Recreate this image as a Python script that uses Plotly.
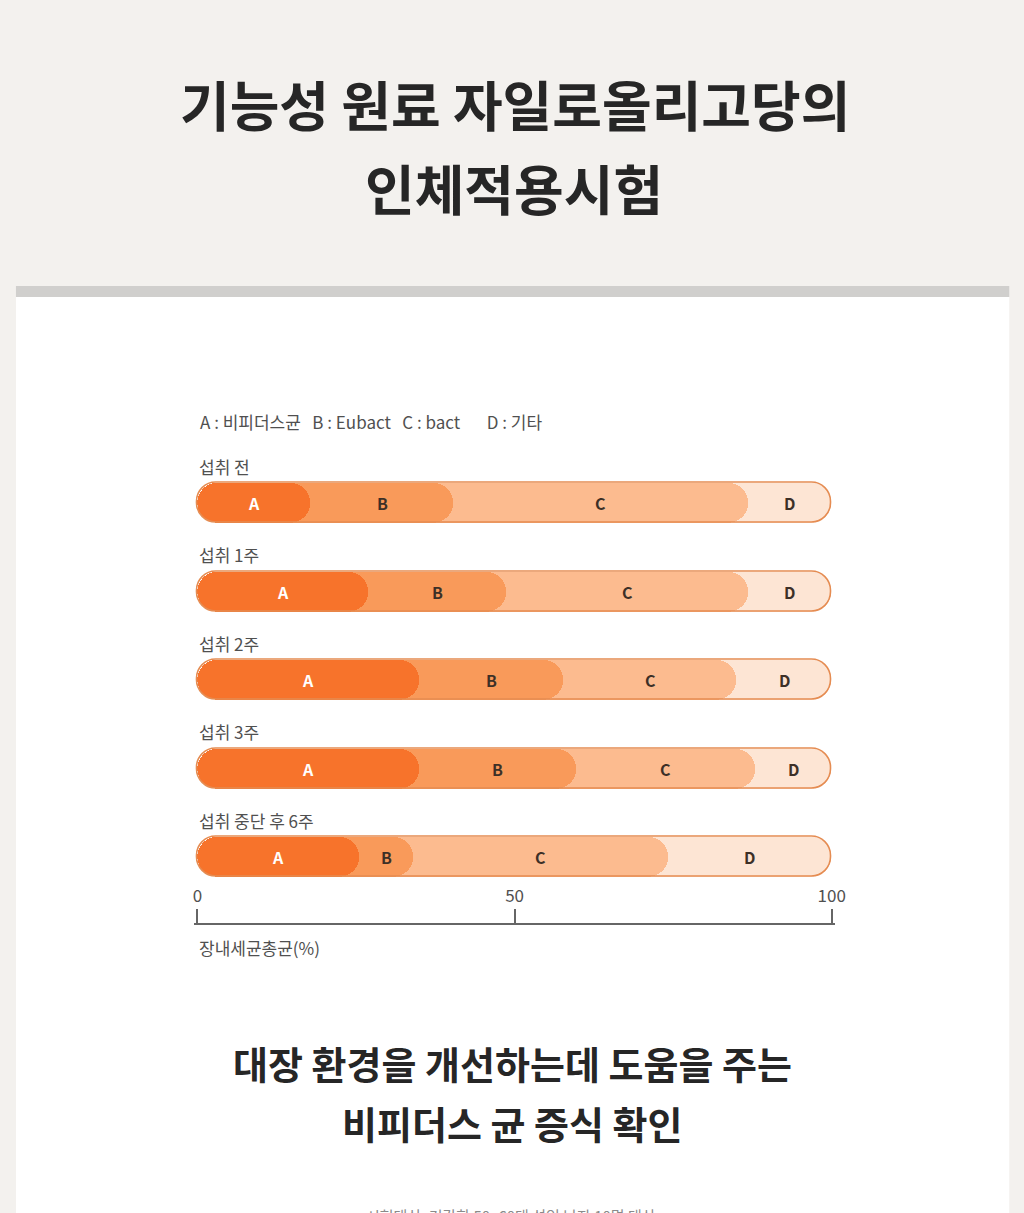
import plotly.graph_objects as go

# ---- data ----
stages = ["섭취 전", "섭취 1주", "섭취 2주", "섭취 3주", "섭취 중단 후 6주"]
seg_names = ["A", "B", "C", "D"]
A_vals = [17.8, 27.0, 34.9, 35.0, 25.5]
B_vals = [22.6, 21.7, 22.8, 24.7, 8.6]
C_vals = [46.4, 38.1, 27.3, 28.3, 40.1]
D_vals = [13.2, 13.2, 15.0, 12.0, 25.8]
tick_vals = [0, 50, 100]
tick_text = ["0", "50", "100"]
legend_text = "A : 비피더스균   B : Eubact   C : bact       D : 기타"
axis_title = "장내세균총균(%)"
title_lines = ["기능성 원료 자일로올리고당의", "인체적용시험"]
headline_lines = ["대장 환경을 개선하는데 도움을 주는", "비피더스 균 증식 확인"]
footnote = "시험대상: 건강한 50~60대 성인 남자 10명 대상"

# ---- styling ----
W, H = 1024, 1213
XS = 1 / 0.99          # horizontal compensation for the renderer's slight squeeze
FONT = "Noto Sans CJK KR"
colors = {"A": "#f7732b", "B": "#f99a5a", "C": "#fcbb8f", "D": "#fde5d4"}
label_colors = {"A": "#ffffff", "B": "#3d3027", "C": "#3d3027", "D": "#3d3027"}
border = "#e58c52"
txt_gray = "#505050"

def py(px):
    return 1 - px / H

def px_(x):
    return x * XS / W

series = {"A": A_vals, "B": B_vals, "C": C_vals, "D": D_vals}
cum_end = {}
cum_start = {}
running = [0.0] * len(stages)
for s in seg_names:
    cum_start[s] = list(running)
    running = [r + v for r, v in zip(running, series[s])]
    cum_end[s] = list(running)

fig = go.Figure()
for s in reversed(seg_names):
    fig.add_trace(go.Bar(
        y=stages, x=cum_end[s], base=0, orientation="h",
        marker=dict(color=colors[s], cornerradius=20, line=dict(width=0)),
        width=0.45, name=s, hoverinfo="skip", showlegend=False,
    ))
fig.add_trace(go.Bar(
    y=stages, x=cum_end["D"], base=0, orientation="h",
    marker=dict(color="rgba(0,0,0,0)", cornerradius=20, line=dict(width=1.6, color=border)),
    width=0.45, hoverinfo="skip", showlegend=False,
))

annotations = []
for s in seg_names:
    for i, st in enumerate(stages):
        annotations.append(dict(
            x=cum_start[s][i] + series[s][i] / 2, y=st, xref="x", yref="y",
            text=f"<b>{s}</b>", showarrow=False,
            font=dict(family=FONT, size=16, color=label_colors[s]),
        ))
for st in stages:
    annotations.append(dict(
        x=0, y=st, xref="x", yref="y", xanchor="left", yshift=37,
        text=st, showarrow=False, font=dict(family=FONT, size=17, color=txt_gray),
    ))

annotations += [
    dict(x=px_(197), y=py(421), xref="paper", yref="paper", xanchor="left", yanchor="middle",
         text=legend_text, showarrow=False, font=dict(family=FONT, size=17, color=txt_gray)),
    dict(x=px_(196), y=py(947), xref="paper", yref="paper", xanchor="left", yanchor="middle",
         text=axis_title, showarrow=False, font=dict(family=FONT, size=17, color=txt_gray)),
    dict(x=px_(514), y=py(103), xref="paper", yref="paper", yanchor="middle",
         text=f"<b>{title_lines[0]}</b>", showarrow=False,
         font=dict(family=FONT, size=54, color="#262626")),
    dict(x=px_(513), y=py(188), xref="paper", yref="paper", yanchor="middle",
         text=f"<b>{title_lines[1]}</b>", showarrow=False,
         font=dict(family=FONT, size=54, color="#262626")),
    dict(x=px_(512), y=py(1062), xref="paper", yref="paper", yanchor="middle",
         text=f"<b>{headline_lines[0]}</b>", showarrow=False,
         font=dict(family=FONT, size=38, color="#262626")),
    dict(x=px_(512), y=py(1122), xref="paper", yref="paper", yanchor="middle",
         text=f"<b>{headline_lines[1]}</b>", showarrow=False,
         font=dict(family=FONT, size=38, color="#262626")),
    dict(x=px_(510), y=py(1203), xref="paper", yref="paper", yanchor="top",
         text=footnote, showarrow=False,
         font=dict(family=FONT, size=15, color="#8a8a8a")),
]

shapes = [
    dict(type="rect", xref="paper", yref="paper", x0=px_(14), x1=px_(1010), y0=0, y1=py(297),
         fillcolor="#ffffff", line=dict(width=0), layer="below"),
    dict(type="rect", xref="paper", yref="paper", x0=px_(14), x1=px_(1010), y0=py(297), y1=py(286),
         fillcolor="#d0cfcd", line=dict(width=0), layer="below"),
]

L, R = 196, 832
k = (R - L) / 100
pad = 0.5
x_dom = [px_(L - pad * k), px_(R + pad * k)]
s_px = (857 - 503) / 4
y_top = 503 - s_px / 2
y_bot = 857 + s_px / 2

fig.update_layout(
    width=W, height=H, autosize=False, margin=dict(l=0, r=0, t=0, b=0),
    paper_bgcolor="#f3f1ee", plot_bgcolor="rgba(0,0,0,0)",
    barmode="overlay", bargap=0,
    xaxis=dict(domain=x_dom, range=[-pad, 100 + pad], anchor="free", position=py(924),
               side="top", showgrid=False, zeroline=False, showline=True,
               linecolor="#666666", linewidth=1.5, ticks="outside", ticklen=14,
               tickwidth=1.5, tickcolor="#666666", tickvals=tick_vals, ticktext=tick_text,
               tickfont=dict(family=FONT, size=17, color=txt_gray), fixedrange=True),
    yaxis=dict(domain=[py(y_bot), py(y_top)], type="category", range=[4.5, -0.5],
               categoryorder="array", categoryarray=stages,
               visible=False, showgrid=False, fixedrange=True),
    annotations=annotations, shapes=shapes,
    font=dict(family=FONT),
)

fig.write_html("out.html", config={"responsive": False})
